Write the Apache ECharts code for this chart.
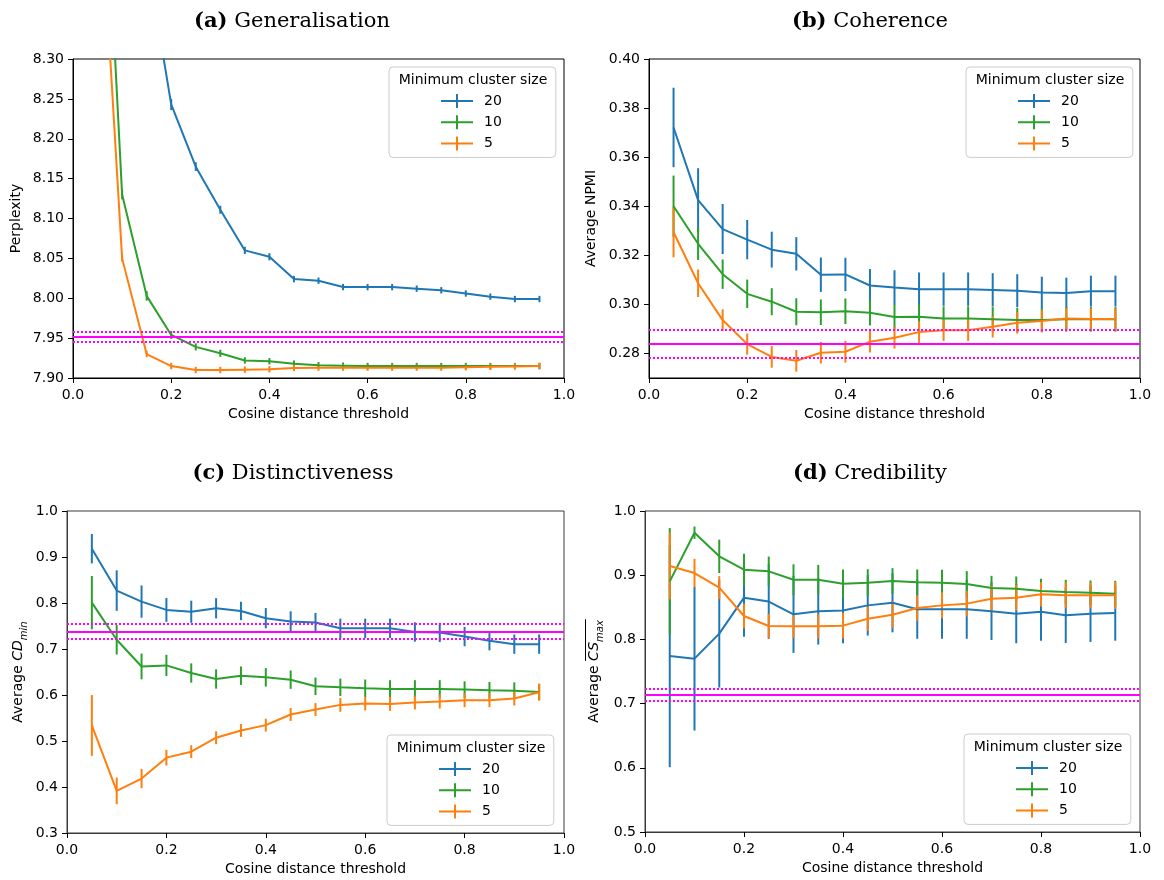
<!DOCTYPE html>
<html>
<head>
<meta charset="utf-8">
<script src="https://cdn.jsdelivr.net/npm/echarts@6/dist/echarts.min.js"></script>
<style>
  html, body { margin: 0; padding: 0; background: #fff; }
  #chart { width: 1164px; height: 880px; }
</style>
</head>
<body>
<div id="chart"></div>
<script>
// Cosine distance thresholds shared by every panel
const thresholds = [0.05, 0.10, 0.15, 0.20, 0.25, 0.30, 0.35, 0.40, 0.45, 0.50,
                    0.55, 0.60, 0.65, 0.70, 0.75, 0.80, 0.85, 0.90, 0.95];

// Legend entries: minimum cluster size
const clusterSizes = ['20', '10', '5'];

// (a) Generalisation: perplexity (mean and standard error)
const perplexity20    = [9.30, 8.75, 8.43, 8.243, 8.165, 8.111, 8.060, 8.052, 8.024, 8.022,
                         8.014, 8.014, 8.014, 8.012, 8.010, 8.006, 8.002, 7.999, 7.999];
const perplexity20Err = [0.02, 0.012, 0.008, 0.007, 0.0055, 0.005, 0.0045, 0.0045, 0.004, 0.004,
                         0.004, 0.004, 0.004, 0.004, 0.004, 0.004, 0.004, 0.004, 0.004];
const perplexity10    = [8.73, 8.130, 8.003, 7.954, 7.939, 7.931, 7.922, 7.921, 7.918, 7.916,
                         7.9155, 7.915, 7.915, 7.915, 7.915, 7.915, 7.915, 7.915, 7.915];
const perplexity10Err = [0.01, 0.006, 0.006, 0.005, 0.0045, 0.0045, 0.004, 0.004, 0.004, 0.004,
                         0.004, 0.004, 0.004, 0.004, 0.004, 0.004, 0.004, 0.004, 0.004];
const perplexity5     = [8.57, 8.050, 7.930, 7.915, 7.910, 7.910, 7.9105, 7.911, 7.9125, 7.913,
                         7.913, 7.913, 7.913, 7.913, 7.913, 7.9135, 7.914, 7.9145, 7.915];
const perplexity5Err  = [0.01, 0.004, 0.004, 0.004, 0.004, 0.004, 0.004, 0.004, 0.004, 0.004,
                         0.004, 0.004, 0.004, 0.004, 0.004, 0.004, 0.004, 0.004, 0.004];
const perplexityBaseline = [7.952, 7.946, 7.958];   // mean, lower, upper

// (b) Coherence: average NPMI
const npmi20    = [0.3721, 0.3425, 0.3307, 0.3264, 0.3223, 0.3206, 0.3121, 0.3122, 0.3077, 0.3069,
                   0.3062, 0.3062, 0.3062, 0.3059, 0.3056, 0.3048, 0.3046, 0.3054, 0.3054];
const npmi20Err = [0.0162, 0.013, 0.0102, 0.008, 0.0073, 0.0068, 0.007, 0.0068, 0.0067, 0.007,
                   0.0068, 0.0068, 0.0068, 0.0068, 0.0067, 0.0065, 0.0063, 0.0063, 0.0063];
const npmi10    = [0.340, 0.3247, 0.3123, 0.3043, 0.3011, 0.297, 0.2968, 0.2972, 0.2966, 0.2949,
                   0.295, 0.2942, 0.2942, 0.2939, 0.2936, 0.2936, 0.2939, 0.2939, 0.2939];
const npmi10Err = [0.0125, 0.0066, 0.006, 0.0058, 0.0055, 0.0055, 0.0052, 0.0052, 0.0052, 0.0052,
                   0.005, 0.005, 0.005, 0.005, 0.005, 0.005, 0.005, 0.005, 0.005];
const npmi5     = [0.3294, 0.3086, 0.2936, 0.2838, 0.2786, 0.277, 0.2803, 0.2807, 0.2848, 0.2864,
                   0.2887, 0.2895, 0.2895, 0.2909, 0.2925, 0.2932, 0.2942, 0.294, 0.294];
const npmi5Err  = [0.0102, 0.0056, 0.0044, 0.0043, 0.0044, 0.0044, 0.0044, 0.0044, 0.0044, 0.0044,
                   0.0044, 0.0044, 0.0044, 0.0044, 0.0044, 0.0044, 0.0044, 0.0044, 0.0044];
const npmiBaseline = [0.2838, 0.2781, 0.2895];
const npmiTicks = [0.28, 0.30, 0.32, 0.34, 0.36, 0.38, 0.40];

// (c) Distinctiveness: average minimum cosine distance
const cd20    = [0.918, 0.827, 0.803, 0.785, 0.781, 0.7885, 0.7827, 0.767, 0.760, 0.7574,
                 0.745, 0.745, 0.745, 0.737, 0.736, 0.727, 0.718, 0.7105, 0.7105];
const cd20Err = [0.032, 0.044, 0.035, 0.026, 0.024, 0.022, 0.02, 0.022, 0.022, 0.021,
                 0.021, 0.021, 0.021, 0.021, 0.021, 0.021, 0.021, 0.021, 0.021];
const cd10    = [0.8007, 0.72, 0.662, 0.6644, 0.6478, 0.6348, 0.642, 0.6384, 0.6333, 0.619,
                 0.6167, 0.6146, 0.6132, 0.6132, 0.6132, 0.6117, 0.6103, 0.6095, 0.6066];
const cd10Err = [0.058, 0.032, 0.028, 0.023, 0.021, 0.021, 0.02, 0.02, 0.02, 0.019,
                 0.019, 0.019, 0.019, 0.019, 0.019, 0.018, 0.018, 0.018, 0.018];
const cd5     = [0.5338, 0.3916, 0.4183, 0.4638, 0.4768, 0.5071, 0.5229, 0.5345, 0.5576, 0.5684,
                 0.5785, 0.5814, 0.5807, 0.5835, 0.5857, 0.5886, 0.5886, 0.5922, 0.6059];
const cd5Err  = [0.066, 0.029, 0.021, 0.017, 0.014, 0.014, 0.014, 0.014, 0.014, 0.014,
                 0.015, 0.015, 0.015, 0.015, 0.015, 0.015, 0.015, 0.015, 0.018];
const cdBaseline = [0.738, 0.722, 0.7545];

// (d) Credibility: average maximum cosine similarity
const cs20    = [0.774, 0.770, 0.809, 0.865, 0.859, 0.839, 0.844, 0.845, 0.853, 0.857,
                 0.847, 0.847, 0.847, 0.844, 0.840, 0.843, 0.8375, 0.840, 0.841];
const cs20Err = [0.173, 0.112, 0.084, 0.061, 0.058, 0.06, 0.052, 0.051, 0.047, 0.046,
                 0.046, 0.046, 0.046, 0.045, 0.046, 0.045, 0.043, 0.044, 0.043];
const cs10    = [0.8904, 0.9662, 0.9294, 0.9086, 0.906, 0.893, 0.893, 0.8868, 0.8884, 0.891,
                 0.8889, 0.8884, 0.8863, 0.880, 0.879, 0.8754, 0.8738, 0.8728, 0.8712];
const cs10Err = [0.083, 0.0096, 0.026, 0.025, 0.023, 0.024, 0.023, 0.022, 0.021, 0.02,
                 0.02, 0.02, 0.02, 0.019, 0.019, 0.019, 0.019, 0.019, 0.02];
const cs5     = [0.9143, 0.9034, 0.8806, 0.8364, 0.8209, 0.8204, 0.8204, 0.8214, 0.8323, 0.8385,
                 0.8489, 0.853, 0.8557, 0.8634, 0.865, 0.8702, 0.8686, 0.8686, 0.8686];
const cs5Err  = [0.052, 0.022, 0.018, 0.019, 0.019, 0.018, 0.019, 0.02, 0.019, 0.021,
                 0.02, 0.02, 0.02, 0.02, 0.02, 0.019, 0.02, 0.02, 0.021];
const csBaseline = [0.7144, 0.705, 0.7233];

// ---------------------------------------------------------------------------
const FONT = 'DejaVu Sans';
const SERIF = 'DejaVu Serif';
const COLORS = { '20': '#1f77b4', '10': '#2ca02c', '5': '#ff7f0e' };
const MAGENTA = '#ff00ff';
// Line with a vertical error-bar stroke; the trailing move widens the icon box
const PLUS_ICON = 'path://M0,6L32,6L32,8L0,8Z M15,0L17,0L17,14L15,14Z M38,7';

const panels = [
  {
    title: '{b|(a)} Generalisation', titleX: 292, titleY: 11,
    grid: { left: 73, top: 59, width: 491, height: 319 }, frame: '#000',
    yAxis: { min: 7.90, max: 8.30, interval: 0.05, digits: 2,
             name: 'Perplexity', nameGap: 50 },
    lines: { '20': [perplexity20, perplexity20Err],
             '10': [perplexity10, perplexity10Err],
             '5':  [perplexity5, perplexity5Err] },
    baseline: perplexityBaseline,
    legend: { left: 389, top: 67 }
  },
  {
    title: '{b|(b)} Coherence', titleX: 870, titleY: 11,
    grid: { left: 649, top: 59, width: 491, height: 319 }, frame: '#000',
    yAxis: { min: 0.27, max: 0.40, ticks: npmiTicks, digits: 2,
             name: 'Average NPMI', nameGap: 51 },
    lines: { '20': [npmi20, npmi20Err],
             '10': [npmi10, npmi10Err],
             '5':  [npmi5, npmi5Err] },
    baseline: npmiBaseline,
    legend: { left: 966, top: 67 }
  },
  {
    title: '{b|(c)} Distinctiveness', titleX: 293, titleY: 463,
    grid: { left: 67, top: 511, width: 497, height: 322 }, frame: '#3a3a3a',
    yAxis: { min: 0.3, max: 1.0, interval: 0.1, digits: 1,
             name: '{n|Average }{i|CD}{s|min}', nameGap: 40 },
    lines: { '20': [cd20, cd20Err],
             '10': [cd10, cd10Err],
             '5':  [cd5, cd5Err] },
    baseline: cdBaseline,
    legend: { left: 387, top: 735 }
  },
  {
    title: '{b|(d)} Credibility', titleX: 870, titleY: 463,
    grid: { left: 645, top: 511, width: 495, height: 321 }, frame: '#3a3a3a',
    yAxis: { min: 0.5, max: 1.0, interval: 0.1, digits: 1,
             name: '{n|Average }{i|CS}{s|max}', nameGap: 42, overline: true },
    lines: { '20': [cs20, cs20Err],
             '10': [cs10, cs10Err],
             '5':  [cs5, cs5Err] },
    baseline: csBaseline,
    legend: { left: 964, top: 734 }
  }
];

// Vertical error bar for one point, clipped to the plotting area
function renderErrorBar(params, api) {
  const x = api.value(0), y = api.value(1), e = api.value(2);
  const lo = api.coord([x, y - e]);
  const hi = api.coord([x, y + e]);
  const cs = params.coordSys;
  const y1 = Math.max(Math.min(lo[1], hi[1]), cs.y);
  const y2 = Math.min(Math.max(lo[1], hi[1]), cs.y + cs.height);
  if (y1 >= y2) return null;
  return {
    type: 'line',
    shape: { x1: lo[0], y1: y1, x2: lo[0], y2: y2 },
    style: { stroke: api.visual('color'), lineWidth: 2 }
  };
}

const nameRich = {
  n: { fontFamily: FONT, fontSize: 14, color: '#000', verticalAlign: 'top', lineHeight: 16 },
  i: { fontFamily: FONT, fontSize: 14, color: '#000', fontStyle: 'italic', verticalAlign: 'top', lineHeight: 16 },
  s: { fontFamily: FONT, fontSize: 10, color: '#000', fontStyle: 'italic', verticalAlign: 'top', lineHeight: 12, padding: [8, 0, 0, 0] }
};

// Text measuring for the bar drawn over the CS_max symbol
const measureCtx = document.createElement('canvas').getContext('2d');
function textWidth(str, font) { measureCtx.font = font; return measureCtx.measureText(str).width; }

const option = {
  animation: false,
  backgroundColor: '#fff',
  title: [], grid: [], xAxis: [], yAxis: [], legend: [], series: [], graphic: []
};

panels.forEach((p, i) => {
  option.title.push({
    text: p.title, left: p.titleX, top: p.titleY, textAlign: 'center', padding: 0,
    textStyle: {
      fontFamily: SERIF, fontSize: 21, fontWeight: 'normal', color: '#000',
      rich: { b: { fontFamily: SERIF, fontSize: 21, fontWeight: 'bold', color: '#000' } }
    }
  });

  option.grid.push(Object.assign({
    show: true, borderColor: p.frame, borderWidth: 1, backgroundColor: 'transparent',
    containLabel: false, outerBoundsMode: 'none'
  }, p.grid));

  option.xAxis.push({
    type: 'value', gridIndex: i, min: 0, max: 1, interval: 0.2,
    name: 'Cosine distance threshold', nameLocation: 'middle', nameGap: 29,
    nameTextStyle: { fontFamily: FONT, fontSize: 14, color: '#000' },
    axisLine: { show: true, onZero: false, lineStyle: { color: p.frame, width: 1 } },
    axisTick: { show: true, inside: false, length: 5, lineStyle: { color: '#000', width: 1 } },
    axisLabel: { fontFamily: FONT, fontSize: 14, color: '#000', margin: 10,
                 formatter: v => v.toFixed(1) },
    splitLine: { show: false }
  });

  const ya = p.yAxis;
  const yAxis = {
    type: 'value', gridIndex: i, min: ya.min, max: ya.max,
    name: ya.name, nameLocation: 'middle', nameGap: ya.nameGap, nameRotate: 90,
    nameTextStyle: { fontFamily: FONT, fontSize: 14, color: '#000', rich: nameRich },
    axisLine: { show: true, onZero: false, lineStyle: { color: p.frame, width: 1 } },
    axisTick: { show: true, inside: false, length: 5, lineStyle: { color: '#000', width: 1 } },
    axisLabel: { fontFamily: FONT, fontSize: 14, color: '#000', margin: 9,
                 formatter: v => v.toFixed(ya.digits) },
    splitLine: { show: false }
  };
  if (ya.ticks) {
    yAxis.axisTick.customValues = ya.ticks;
    yAxis.axisLabel.customValues = ya.ticks;
  } else {
    yAxis.interval = ya.interval;
  }
  option.yAxis.push(yAxis);

  if (ya.overline) {
    const wAvg = textWidth('Average ', '14px "DejaVu Sans"');
    const wSym = textWidth('CS', 'italic 14px "DejaVu Sans"');
    const wSub = textWidth('max', 'italic 10px "DejaVu Sans"');
    const total = wAvg + wSym + wSub;
    const mid = p.grid.top + p.grid.height / 2;
    const x = p.grid.left - ya.nameGap - 17.5;
    option.graphic.push({
      type: 'line', z: 100,
      shape: { x1: x, y1: mid + total / 2 - wAvg, x2: x, y2: mid - total / 2 - 1 },
      style: { stroke: '#000', lineWidth: 1 }
    });
  }

  clusterSizes.forEach(size => {
    const [vals, errs] = p.lines[size];
    const color = COLORS[size];
    option.series.push({
      type: 'line', name: size, xAxisIndex: i, yAxisIndex: i,
      data: thresholds.map((t, k) => [t, vals[k]]),
      symbol: 'none', clip: true, z: 2,
      lineStyle: { width: 2, color: color }, itemStyle: { color: color }
    });
    option.series.push({
      type: 'custom', name: size, xAxisIndex: i, yAxisIndex: i,
      data: thresholds.map((t, k) => [t, vals[k], errs[k]]),
      encode: { x: 0, y: 1 }, renderItem: renderErrorBar, clip: true, z: 2,
      itemStyle: { color: color }
    });
  });

  // Baseline mean (solid) and its interval (dotted)
  const [mean, low, high] = p.baseline;
  option.series.push({
    type: 'line', name: 'baseline', xAxisIndex: i, yAxisIndex: i, data: [], z: 3,
    markLine: {
      silent: true, symbol: 'none', precision: 5, label: { show: false }, animation: false,
      data: [
        { yAxis: mean, lineStyle: { color: MAGENTA, width: 2, type: 'solid' } },
        { yAxis: low,  lineStyle: { color: MAGENTA, width: 2, type: [2, 2] } },
        { yAxis: high, lineStyle: { color: MAGENTA, width: 2, type: [2, 2] } }
      ]
    }
  });

  option.legend.push({
    orient: 'vertical', left: p.legend.left, top: p.legend.top,
    padding: [27, 54, 7, 52], itemWidth: 38, itemHeight: 14, itemGap: 7.2,
    borderColor: '#cccccc', borderWidth: 1, borderRadius: 4,
    backgroundColor: 'rgba(255,255,255,0.8)', selectedMode: false, z: 10,
    textStyle: { fontFamily: FONT, fontSize: 14, color: '#000' },
    data: clusterSizes.map(s => ({
      name: s, icon: PLUS_ICON, itemStyle: { color: COLORS[s], borderWidth: 0 }
    }))
  });

  option.graphic.push({
    type: 'text', z: 100,
    x: p.legend.left + 84, y: p.legend.top + 13,
    style: { text: 'Minimum cluster size', fontFamily: FONT, fontSize: 14, fill: '#000',
             align: 'center', verticalAlign: 'middle' }
  });
});

const chart = echarts.init(document.getElementById('chart'), null, { renderer: 'canvas' });
chart.setOption(option);
</script>
</body>
</html>
